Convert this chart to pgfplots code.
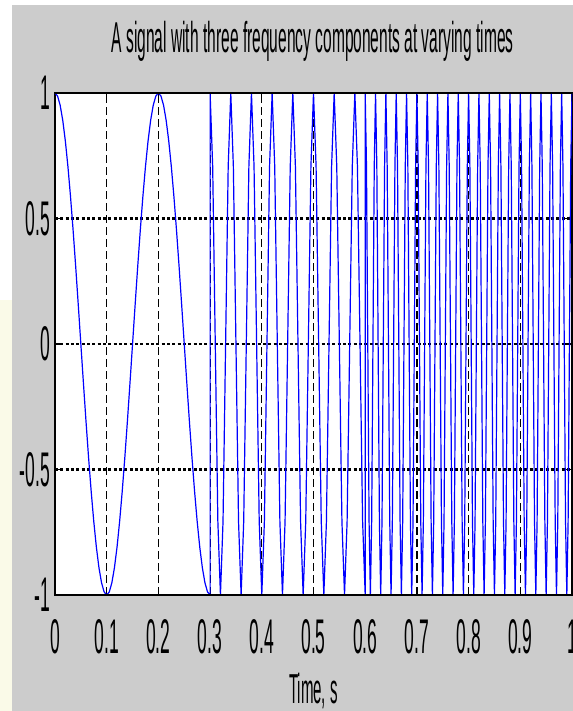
\documentclass[border=0pt]{standalone}
\usepackage{pgfplots}
\pgfplotsset{compat=1.18}
\usepackage{fontspec}
\setmainfont{Liberation Sans}[FakeStretch=0.36]
\definecolor{figgray}{RGB}{204,204,204}
\definecolor{cream}{RGB}{250,250,232}
\begin{document}
\begin{tikzpicture}
  % figure background (1px = 0.75pt)
  \fill[white] (0,0) rectangle (429.75pt,533.25pt);
  \fill[cream] (0,0) rectangle (9pt,308pt);
  \fill[figgray] (9pt,0) rectangle (429.75pt,529.5pt);

  \begin{axis}[
    at={(41.25pt,87pt)}, anchor=south west,
    scale only axis,
    width=387.75pt, height=376.5pt,
    xmin=0, xmax=1, ymin=-1, ymax=1,
    axis background/.style={fill=white},
    axis line style={black, line width=0.8pt},
    xtick={0,0.1,0.2,0.3,0.4,0.5,0.6,0.7,0.8,0.9,1},
    xticklabels={0,0.1,0.2,0.3,0.4,0.5,0.6,0.7,0.8,0.9,1},
    ytick={-1,-0.5,0,0.5,1},
    yticklabels={-1,-0.5,0,0.5,1},
    tick align=inside,
    major tick length=5pt,
    tick style={black, line width=0.8pt},
    xticklabel style={anchor=base, yshift=-43.5pt, font=\fontsize{36.5}{40}\selectfont},
    yticklabel style={anchor=east, inner sep=0pt, xshift=-3.5pt, font=\fontsize{36.5}{40}\selectfont},
    xmajorgrids, ymajorgrids,
    major x grid style={black, line width=0.9pt, dash pattern=on 6pt off 3pt},
    major y grid style={black, line width=2pt, dash pattern=on 2.2pt off 1.8pt},
  ]
    \addplot[blue, line width=0.9pt, mark=none] coordinates {
      % 5 Hz part
      (0,1)(0.005,0.9877)(0.01,0.9511)(0.015,0.8910)(0.02,0.8090)(0.025,0.7071)(0.03,0.5878)(0.035,0.4540)(0.04,0.3090)(0.045,0.1564)
      (0.05,0)(0.055,-0.1564)(0.06,-0.3090)(0.065,-0.4540)(0.07,-0.5878)(0.075,-0.7071)(0.08,-0.8090)(0.085,-0.8910)(0.09,-0.9511)(0.095,-0.9877)
      (0.1,-1)(0.105,-0.9877)(0.11,-0.9511)(0.115,-0.8910)(0.12,-0.8090)(0.125,-0.7071)(0.13,-0.5878)(0.135,-0.4540)(0.14,-0.3090)(0.145,-0.1564)
      (0.15,0)(0.155,0.1564)(0.16,0.3090)(0.165,0.4540)(0.17,0.5878)(0.175,0.7071)(0.18,0.8090)(0.185,0.8910)(0.19,0.9511)(0.195,0.9877)
      (0.2,1)(0.205,0.9877)(0.21,0.9511)(0.215,0.8910)(0.22,0.8090)(0.225,0.7071)(0.23,0.5878)(0.235,0.4540)(0.24,0.3090)(0.245,0.1564)
      (0.25,0)(0.255,-0.1564)(0.26,-0.3090)(0.265,-0.4540)(0.27,-0.5878)(0.275,-0.7071)(0.28,-0.8090)(0.285,-0.8910)(0.29,-0.9511)(0.295,-0.9877)
      (0.3,-1)
      % 25 Hz part
      (0.3,1)(0.305,0.7071)(0.31,0)(0.315,-0.7071)(0.32,-1)(0.325,-0.7071)(0.33,0)(0.335,0.7071)
      (0.34,1)(0.345,0.7071)(0.35,0)(0.355,-0.7071)(0.36,-1)(0.365,-0.7071)(0.37,0)(0.375,0.7071)
      (0.38,1)(0.385,0.7071)(0.39,0)(0.395,-0.7071)(0.40,-1)(0.405,-0.7071)(0.41,0)(0.415,0.7071)
      (0.42,1)(0.425,0.7071)(0.43,0)(0.435,-0.7071)(0.44,-1)(0.445,-0.7071)(0.45,0)(0.455,0.7071)
      (0.46,1)(0.465,0.7071)(0.47,0)(0.475,-0.7071)(0.48,-1)(0.485,-0.7071)(0.49,0)(0.495,0.7071)
      (0.50,1)(0.505,0.7071)(0.51,0)(0.515,-0.7071)(0.52,-1)(0.525,-0.7071)(0.53,0)(0.535,0.7071)
      (0.54,1)(0.545,0.7071)(0.55,0)(0.555,-0.7071)(0.56,-1)(0.565,-0.7071)(0.57,0)(0.575,0.7071)
      (0.58,1)(0.585,0.7071)(0.59,0)(0.595,-0.7071)(0.6,-1)
      % 50 Hz part
      (0.6,1)(0.6025,0.7071)(0.605,0)(0.6075,-0.7071)(0.61,-1)(0.6125,-0.7071)(0.615,0)(0.6175,0.7071)
      (0.62,1)(0.6225,0.7071)(0.625,0)(0.6275,-0.7071)(0.63,-1)(0.6325,-0.7071)(0.635,0)(0.6375,0.7071)
      (0.64,1)(0.6425,0.7071)(0.645,0)(0.6475,-0.7071)(0.65,-1)(0.6525,-0.7071)(0.655,0)(0.6575,0.7071)
      (0.66,1)(0.6625,0.7071)(0.665,0)(0.6675,-0.7071)(0.67,-1)(0.6725,-0.7071)(0.675,0)(0.6775,0.7071)
      (0.68,1)(0.6825,0.7071)(0.685,0)(0.6875,-0.7071)(0.69,-1)(0.6925,-0.7071)(0.695,0)(0.6975,0.7071)
      (0.70,1)(0.7025,0.7071)(0.705,0)(0.7075,-0.7071)(0.71,-1)(0.7125,-0.7071)(0.715,0)(0.7175,0.7071)
      (0.72,1)(0.7225,0.7071)(0.725,0)(0.7275,-0.7071)(0.73,-1)(0.7325,-0.7071)(0.735,0)(0.7375,0.7071)
      (0.74,1)(0.7425,0.7071)(0.745,0)(0.7475,-0.7071)(0.75,-1)(0.7525,-0.7071)(0.755,0)(0.7575,0.7071)
      (0.76,1)(0.7625,0.7071)(0.765,0)(0.7675,-0.7071)(0.77,-1)(0.7725,-0.7071)(0.775,0)(0.7775,0.7071)
      (0.78,1)(0.7825,0.7071)(0.785,0)(0.7875,-0.7071)(0.79,-1)(0.7925,-0.7071)(0.795,0)(0.7975,0.7071)
      (0.80,1)(0.8025,0.7071)(0.805,0)(0.8075,-0.7071)(0.81,-1)(0.8125,-0.7071)(0.815,0)(0.8175,0.7071)
      (0.82,1)(0.8225,0.7071)(0.825,0)(0.8275,-0.7071)(0.83,-1)(0.8325,-0.7071)(0.835,0)(0.8375,0.7071)
      (0.84,1)(0.8425,0.7071)(0.845,0)(0.8475,-0.7071)(0.85,-1)(0.8525,-0.7071)(0.855,0)(0.8575,0.7071)
      (0.86,1)(0.8625,0.7071)(0.865,0)(0.8675,-0.7071)(0.87,-1)(0.8725,-0.7071)(0.875,0)(0.8775,0.7071)
      (0.88,1)(0.8825,0.7071)(0.885,0)(0.8875,-0.7071)(0.89,-1)(0.8925,-0.7071)(0.895,0)(0.8975,0.7071)
      (0.90,1)(0.9025,0.7071)(0.905,0)(0.9075,-0.7071)(0.91,-1)(0.9125,-0.7071)(0.915,0)(0.9175,0.7071)
      (0.92,1)(0.9225,0.7071)(0.925,0)(0.9275,-0.7071)(0.93,-1)(0.9325,-0.7071)(0.935,0)(0.9375,0.7071)
      (0.94,1)(0.9425,0.7071)(0.945,0)(0.9475,-0.7071)(0.95,-1)(0.9525,-0.7071)(0.955,0)(0.9575,0.7071)
      (0.96,1)(0.9625,0.7071)(0.965,0)(0.9675,-0.7071)(0.97,-1)(0.9725,-0.7071)(0.975,0)(0.9775,0.7071)
      (0.98,1)(0.9825,0.7071)(0.985,0)(0.9875,-0.7071)(0.99,-1)(0.9925,-0.7071)(0.995,0)(0.9975,0.7071)
      (1,1)
    };
  \end{axis}

  % heavier top and bottom edges of the box
  \draw[line width=2pt] (41.25pt,87pt) -- (429pt,87pt);
  \draw[line width=2pt] (41.25pt,463.5pt) -- (429pt,463.5pt);

  % title and x label
  \node[anchor=base, inner sep=0pt, font=\fontsize{32.4}{35}\selectfont]
    at (234.5pt,493.5pt) {A signal with three frequency components at varying times};
  \node[anchor=base, inner sep=0pt, font=\fontsize{31.4}{34}\selectfont]
    at (235.1pt,5.5pt) {Time, s};

  \pgfresetboundingbox
  \useasboundingbox (0,0) rectangle (429.75pt,533.25pt);
\end{tikzpicture}
\end{document}
